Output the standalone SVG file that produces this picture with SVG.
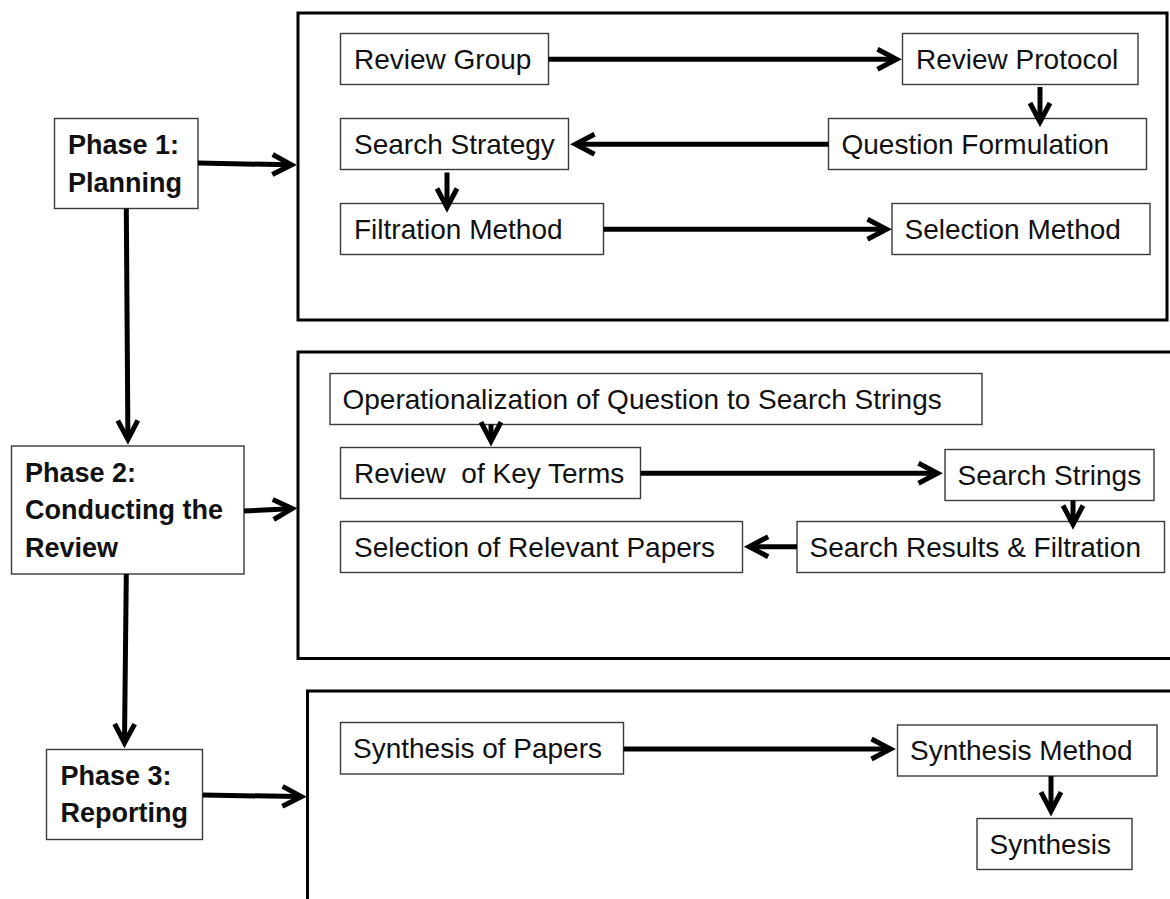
<svg xmlns="http://www.w3.org/2000/svg" width="1170" height="899" viewBox="0 0 1170 899">
  <style>
    .frame { fill: none; stroke: #000; stroke-width: 3; }
    .box { fill: #fff; stroke: #3a3a3a; stroke-width: 1.4; }
    .lbl { font-family: "Liberation Sans", Arial, sans-serif; font-size: 28px; fill: #111; white-space: pre; }
    .phase { font-family: "Liberation Sans", Arial, sans-serif; font-size: 27px; font-weight: bold; fill: #111; }
    .conn line { stroke: #000; stroke-width: 5; marker-end: url(#ah); }
  </style>
  <defs>
    <marker id="ah" markerUnits="userSpaceOnUse" viewBox="-22 -16 36 32" refX="0" refY="0" markerWidth="36" markerHeight="32" orient="auto" overflow="visible">
      <path d="M-16.5,-10 L2.5,0 L-16.5,10" fill="none" stroke="#000" stroke-width="5"/>
    </marker>
  </defs>
  <rect width="1170" height="899" fill="#fff"/>

  <!-- phase containers -->
  <g id="planning-frame"><rect class="frame" x="298" y="13" width="869" height="307"/></g>
  <g id="conducting-frame"><rect class="frame" x="298" y="352" width="900" height="306.5"/></g>
  <g id="reporting-frame"><rect class="frame" x="307.5" y="691" width="900" height="300"/></g>

  <!-- phase labels -->
  <g id="phase1">
    <rect class="box" x="54.5" y="118.5" width="143.5" height="90"/>
    <text class="phase" x="68" y="154">Phase 1:</text>
    <text class="phase" x="68" y="191.5">Planning</text>
  </g>
  <g id="phase2">
    <rect class="box" x="11.5" y="446" width="232.5" height="128"/>
    <text class="phase" x="25" y="481.5">Phase 2:</text>
    <text class="phase" x="25" y="519">Conducting the</text>
    <text class="phase" x="25" y="556.5">Review</text>
  </g>
  <g id="phase3">
    <rect class="box" x="46.5" y="749.5" width="156" height="90"/>
    <text class="phase" x="60.5" y="785">Phase 3:</text>
    <text class="phase" x="60.5" y="822">Reporting</text>
  </g>

  <!-- planning steps -->
  <g id="review-group">
    <rect class="box" x="340.5" y="33.5" width="208" height="51"/>
    <text class="lbl" x="354" y="68.5">Review Group</text>
  </g>
  <g id="review-protocol">
    <rect class="box" x="902.5" y="33.5" width="235.5" height="51"/>
    <text class="lbl" x="916" y="68.5">Review Protocol</text>
  </g>
  <g id="search-strategy">
    <rect class="box" x="340.5" y="118.5" width="228" height="51"/>
    <text class="lbl" x="354" y="153.5">Search Strategy</text>
  </g>
  <g id="question-formulation">
    <rect class="box" x="828.5" y="118.5" width="318" height="51"/>
    <text class="lbl" x="841.5" y="153.5">Question Formulation</text>
  </g>
  <g id="filtration-method">
    <rect class="box" x="340.5" y="203.5" width="263" height="51"/>
    <text class="lbl" x="354" y="238.5">Filtration Method</text>
  </g>
  <g id="selection-method">
    <rect class="box" x="892" y="203.5" width="258" height="51"/>
    <text class="lbl" x="904.5" y="238.5">Selection Method</text>
  </g>

  <!-- conducting steps -->
  <g id="operationalization">
    <rect class="box" x="330" y="373.5" width="652" height="51"/>
    <text class="lbl" x="342.5" y="408.5">Operationalization of Question to Search Strings</text>
  </g>
  <g id="key-terms">
    <rect class="box" x="340.5" y="447.5" width="300" height="51"/>
    <text class="lbl" x="354" y="482.5">Review  of Key Terms</text>
  </g>
  <g id="search-strings">
    <rect class="box" x="945" y="449.5" width="209" height="51"/>
    <text class="lbl" x="957.5" y="484.5">Search Strings</text>
  </g>
  <g id="relevant-papers">
    <rect class="box" x="340.5" y="521.5" width="402" height="51"/>
    <text class="lbl" x="354" y="556.5">Selection of Relevant Papers</text>
  </g>
  <g id="search-results">
    <rect class="box" x="797" y="521.5" width="367.5" height="51"/>
    <text class="lbl" x="809.5" y="556.5">Search Results &amp; Filtration</text>
  </g>

  <!-- reporting steps -->
  <g id="synthesis-of-papers">
    <rect class="box" x="340.5" y="722.5" width="283" height="51.5"/>
    <text class="lbl" x="353" y="757.5">Synthesis of Papers</text>
  </g>
  <g id="synthesis-method">
    <rect class="box" x="897.5" y="725" width="259.5" height="51"/>
    <text class="lbl" x="910" y="760">Synthesis Method</text>
  </g>
  <g id="synthesis">
    <rect class="box" x="977" y="818.5" width="155" height="51"/>
    <text class="lbl" x="989.5" y="853.5">Synthesis</text>
  </g>

  <!-- connectors: each line stops 8px short of its target; the marker fills the gap -->
  <g id="connectors" class="conn">
    <line x1="198" y1="163" x2="289" y2="164.8"/>
    <line x1="126.3" y1="208.5" x2="127.9" y2="437"/>
    <line x1="244" y1="511" x2="289.7" y2="508.7"/>
    <line x1="126.3" y1="574" x2="124.5" y2="740.5"/>
    <line x1="202.8" y1="795" x2="299" y2="796.6"/>

    <line x1="548.5" y1="59.3" x2="894" y2="59.3"/>
    <line x1="1040" y1="87" x2="1040" y2="119.5"/>
    <line x1="828.5" y1="144.3" x2="578" y2="144.3"/>
    <line x1="447" y1="172.5" x2="447" y2="205"/>
    <line x1="603.5" y1="229.3" x2="884" y2="229.3"/>

    <line x1="491" y1="424.5" x2="491" y2="438.7"/>
    <line x1="640.5" y1="473.3" x2="935" y2="473.3"/>
    <line x1="1073" y1="500.5" x2="1073" y2="522"/>
    <line x1="797" y1="546.7" x2="751.7" y2="546.7"/>

    <line x1="623.5" y1="749" x2="888" y2="749"/>
    <line x1="1051" y1="776" x2="1051" y2="808.7"/>
  </g>
</svg>
